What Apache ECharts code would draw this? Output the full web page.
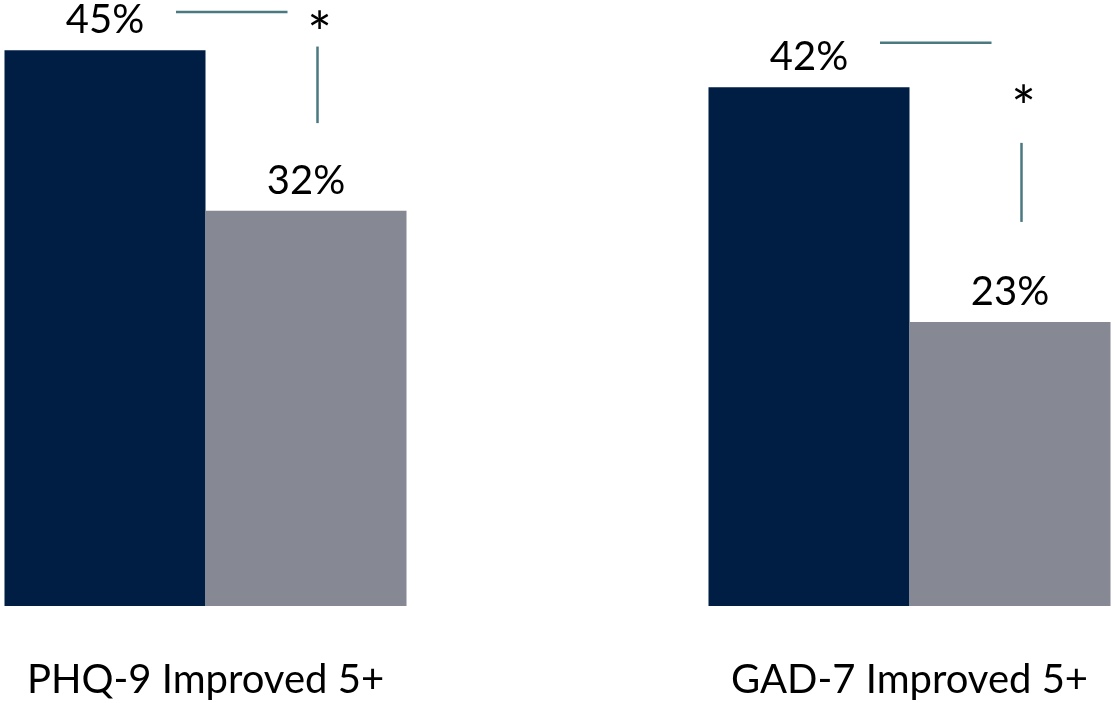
<!DOCTYPE html>
<html>
<head>
<meta charset="utf-8">
<script src="https://cdn.jsdelivr.net/npm/echarts@6/dist/echarts.min.js"></script>
<style>
  html, body { margin: 0; padding: 0; background: #ffffff; }
  #chart { width: 1115px; height: 703px; }
</style>
</head>
<body>
<div id="chart"></div>
<script>
// Outcome measures (x categories)
const categories = ['PHQ-9 Improved 5+', 'GAD-7 Improved 5+'];
// Percent improved, first and second group
const groupA = [45, 42];
const groupB = [32, 23];
// Significance markers, in percent units on the value axis
const sigCategory = [0, 1];
const sigBracketTop = [48.1, 45.6];
const sigTickTop = [45.3, 37.5];
const sigTickBottom = [39.1, 31.1];
const sigStar = [47.4, 41.4];

const FONT = 'Lato, "Open Sans", sans-serif';
const LINE_COLOR = '#4a7980';
const STAR_SIZE = 58;

const sigData = sigCategory.map((c, i) => [c, sigBracketTop[i], sigTickTop[i], sigTickBottom[i], sigStar[i]]);

const chart = echarts.init(document.getElementById('chart'), null, { renderer: 'canvas' });

chart.setOption({
  animation: false,
  backgroundColor: '#ffffff',
  // categories sit on the grid edges (boundaryGap false)
  grid: { left: 205.5, right: 205.5, top: 13.2, bottom: 97 },
  xAxis: {
    type: 'category',
    data: categories,
    boundaryGap: false,
    axisLine: { show: false },
    axisTick: { show: false },
    splitLine: { show: false },
    axisLabel: { margin: 54, fontSize: 40, color: '#000000', fontFamily: FONT }
  },
  yAxis: {
    type: 'value',
    min: 0,
    max: 48,
    show: false,
    splitLine: { show: false }
  },
  series: [
    {
      type: 'bar',
      data: groupA,
      barWidth: 201,
      barGap: '0%',
      itemStyle: { color: '#001d44' },
      label: {
        show: true, position: 'top', distance: 10,
        formatter: '{c}%', fontSize: 40, color: '#000000', fontFamily: FONT
      }
    },
    {
      type: 'bar',
      data: groupB,
      barWidth: 201,
      barGap: '0%',
      itemStyle: { color: '#868894' },
      label: {
        show: true, position: 'top', distance: 10,
        formatter: '{c}%', fontSize: 40, color: '#000000', fontFamily: FONT
      }
    },
    {
      // significance bracket: horizontal rule, asterisk, vertical tick
      type: 'custom',
      clip: false,
      data: sigData,
      encode: { x: 0, y: 1 },
      renderItem: function (params, api) {
        const cat = api.value(0);
        const top = api.coord([cat, api.value(1)]);
        const tickTop = api.coord([cat, api.value(2)]);
        const tickBot = api.coord([cat, api.value(3)]);
        const star = api.coord([cat, api.value(4)]);
        const cx = top[0];
        const tickX = cx + 112;
        return {
          type: 'group',
          children: [
            {
              type: 'line',
              shape: { x1: cx - 29.5, y1: top[1], x2: cx + 82, y2: top[1] },
              style: { stroke: LINE_COLOR, lineWidth: 2.5 }
            },
            {
              type: 'line',
              shape: { x1: tickX, y1: tickTop[1], x2: tickX, y2: tickBot[1] },
              style: { stroke: LINE_COLOR, lineWidth: 2.5 }
            },
            {
              type: 'text',
              x: tickX + 2, y: star[1] + STAR_SIZE * 0.25,
              style: {
                text: '*', fontSize: STAR_SIZE, fill: '#000000', fontFamily: FONT,
                align: 'center', verticalAlign: 'middle'
              }
            }
          ]
        };
      }
    }
  ]
});
</script>
</body>
</html>
